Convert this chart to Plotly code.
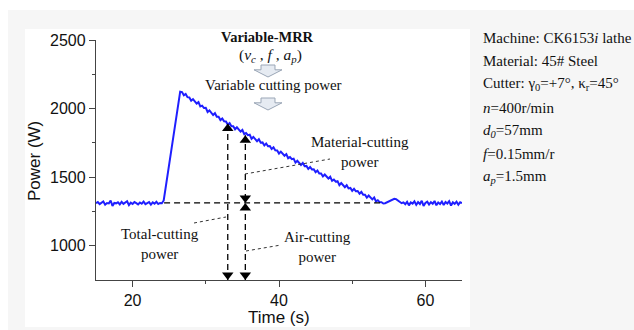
import plotly.graph_objects as go

# ---------------- data ----------------
t_start = 15.0
t_step = 0.25
power_w = [
    # 15.00 .. 24.00 idle / air-cutting baseline
    1310, 1318, 1303, 1313, 1322, 1299, 1311, 1308, 1330, 1290, 1312, 1309, 1317,
    1302, 1320, 1305, 1312, 1324, 1296, 1314, 1304, 1319, 1310, 1301, 1315, 1306,
    1321, 1303, 1311, 1318, 1300, 1316, 1307, 1320, 1304, 1312, 1310,
    # 24.25 .. 26.50 rise
    1330, 1418, 1506, 1594, 1682, 1770, 1858, 1947, 2035, 2123,
    # 26.75 .. 33.00
    2120, 2097, 2107, 2083, 2081, 2057, 2069, 2054, 2036, 2047, 2015, 2021, 2004,
    2006, 1975, 1987, 1972, 1953, 1966, 1940, 1940, 1916, 1928, 1907, 1906, 1883,
    # 33.25 .. 37.50
    1895, 1872, 1872, 1849, 1863, 1848, 1832, 1844, 1814, 1821, 1806, 1809, 1780,
    1793, 1780, 1762, 1776, 1751,
    # 37.75 .. 43.00
    1753, 1731, 1745, 1725, 1726, 1705, 1717, 1695, 1694, 1672, 1686, 1672, 1656,
    1668, 1638, 1646, 1631, 1635, 1606, 1619, 1606, 1589,
    # 43.25 .. 49.50
    1603, 1580, 1582, 1560, 1574, 1556, 1557, 1536, 1548, 1527, 1527, 1505, 1519,
    1506, 1490, 1503, 1473, 1482, 1467, 1471, 1442, 1457, 1444, 1427, 1441, 1418,
    # 49.75 .. 54.00
    1421, 1400, 1415, 1397, 1399, 1379, 1392, 1371, 1372, 1351, 1366, 1353, 1338,
    1352, 1323, 1332, 1318, 1317,
    # 54.25 .. 57.00 small bump
    1308, 1310, 1316, 1322, 1330, 1336, 1342, 1340, 1330, 1320, 1310, 1316,
    # 57.25 .. 65.00 baseline
    1303, 1320, 1294, 1316, 1307, 1324, 1298, 1318, 1304, 1328, 1290, 1312, 1321,
    1300, 1317, 1306, 1326, 1295, 1315, 1304, 1322, 1297, 1319, 1308, 1325, 1293,
    1316, 1305, 1321, 1299, 1317, 1311,
]
time_s = [t_start + t_step * i for i in range(len(power_w))]

air_power = 1312          # air-cutting power level (W)
air_line_t = [24.3, 54.0]  # extent of dashed baseline
arrow1_t, arrow1_top = 33.0, 1891
arrow2_t, arrow2_top = 35.4, 1806

x_range = [15, 65]
y_range = [750, 2500]
x_ticks = [20, 40, 60]
y_ticks = [1000, 1500, 2000, 2500]

info_lines = [
    "Machine: CK6153<i>i</i> lathe",
    "Material: 45# Steel",
    "Cutter: γ<sub>0</sub>=+7°, κ<sub>r</sub>=45°",
    "<i>n</i>=400r/min",
    "<i>d<sub>0</sub></i>=57mm",
    "<i>f</i>=0.15mm/r",
    "<i>a<sub>p</sub></i>=1.5mm",
]

# ---------------- layout helpers (pixel -> paper) ----------------
W, H = 634, 330
ML, MR, MT, MB = 96, 172, 40, 50
PW, PH = W - ML - MR, H - MT - MB


def px(x):
    return (x - ML) / PW


def py(y):
    return (H - MB - y) / PH


SERIF = "Liberation Serif, Times New Roman, serif"
SANS = "Liberation Sans, Arial, sans-serif"

fig = go.Figure()
fig.add_trace(go.Scatter(x=time_s, y=power_w, mode="lines",
                         line=dict(color="#1f1fff", width=2),
                         hoverinfo="skip", showlegend=False))

shapes = []
# backgrounds
shapes.append(dict(type="rect", xref="paper", yref="paper", layer="below",
                   x0=px(8), x1=px(634), y0=py(330), y1=py(10),
                   fillcolor="#f6f6f6", line=dict(width=0)))
shapes.append(dict(type="rect", xref="paper", yref="paper", layer="below",
                   x0=px(25), x1=px(470), y0=py(327), y1=py(29),
                   fillcolor="#ffffff", line=dict(width=0)))

dash_line = dict(color="black", width=1.3, dash="6px,4px")
# horizontal dashed air-cutting level
shapes.append(dict(type="line", xref="x", yref="y", x0=air_line_t[0], x1=air_line_t[1],
                   y0=air_power, y1=air_power, line=dash_line))
# vertical dashed lines
shapes.append(dict(type="line", xref="x", yref="y", x0=arrow1_t, x1=arrow1_t,
                   y0=y_range[0], y1=arrow1_top, line=dash_line))
shapes.append(dict(type="line", xref="x", yref="y", x0=arrow2_t, x1=arrow2_t,
                   y0=y_range[0], y1=arrow2_top, line=dash_line))

# dotted leader lines (pixel positions)
dot = dict(color="#333333", width=1, dash="dot")
for (x0, y0, x1, y1) in [(245, 174, 330, 159), (194, 223, 226, 217), (246, 251, 281, 245)]:
    shapes.append(dict(type="line", xref="paper", yref="paper",
                       x0=px(x0), y0=py(y0), x1=px(x1), y1=py(y1), line=dot))


# hollow down arrows
def hollow_arrow(cx, top, bottom):
    stem_h = (bottom - top) * 0.4
    pts = [(cx - 7, top), (cx + 7, top), (cx + 7, top + stem_h), (cx + 14, top + stem_h),
           (cx, bottom), (cx - 14, top + stem_h), (cx - 7, top + stem_h)]
    path = "M " + " L ".join(f"{px(a):.5f},{py(b):.5f}" for a, b in pts) + " Z"
    return dict(type="path", xref="paper", yref="paper", path=path,
                fillcolor="#e6ebf2", line=dict(color="#9aa6b6", width=1))


shapes.append(hollow_arrow(268, 65, 77))
shapes.append(hollow_arrow(268, 98, 110))

annotations = []


def text(x, y, s, size=14.5, font=SERIF, anchor="center", color="#111111"):
    annotations.append(dict(x=px(x), y=py(y), xref="paper", yref="paper", text=s,
                            showarrow=False, xanchor=anchor, yanchor="middle",
                            align="center", font=dict(family=font, size=size, color=color)))


text(267, 37, "<b>Variable-MRR</b>", size=14.5)
text(270, 55, "(<i>v</i><sub><i>c</i></sub> , <i>f</i> , <i>a</i><sub><i>p</i></sub>)", size=15.5)
text(273, 85, "Variable cutting power", size=15)
text(360, 152, "Material-cutting<br>power", size=15)
text(160, 244, "Total-cutting<br>power", size=15)
text(317, 247, "Air-cutting<br>power", size=15)

for i, line in enumerate(info_lines):
    text(481, 38 + i * 23.2, line, size=15, anchor="left")

# axis titles
annotations.append(dict(x=px(34), y=py(161), xref="paper", yref="paper", text="Power (W)",
                        textangle=-90, showarrow=False, xanchor="center", yanchor="middle",
                        font=dict(family=SANS, size=17, color="#111111")))
annotations.append(dict(x=px(279), y=py(317), xref="paper", yref="paper", text="Time (s)",
                        showarrow=False, yanchor="middle",
                        font=dict(family=SANS, size=17, color="#111111")))

# solid arrowheads on the dashed lines (triangle markers whose tips touch the targets)
HEAD = 10                                  # marker size (px)
w_per_px = (y_range[1] - y_range[0]) / PH  # W per pixel
off = HEAD / 2 * w_per_px                   # tip-to-centre offset in data units
heads = [  # (time, tip value, pointing down?)
    (arrow1_t, y_range[0], True), (arrow1_t, arrow1_top, False),
    (arrow2_t, y_range[0], True), (arrow2_t, air_power, False),
    (arrow2_t, air_power, True), (arrow2_t, arrow2_top, False),
]
fig.add_trace(go.Scatter(
    x=[h[0] for h in heads],
    y=[h[1] + off if h[2] else h[1] - off for h in heads],
    mode="markers", hoverinfo="skip", showlegend=False, cliponaxis=False,
    marker=dict(symbol=["triangle-down" if h[2] else "triangle-up" for h in heads],
                size=HEAD, color="black", line=dict(width=0))))

axis_common = dict(showline=True, linecolor="#444444", linewidth=1.4, ticks="outside",
                   ticklen=6, tickwidth=1.3, tickcolor="#444444", showgrid=False,
                   zeroline=False, mirror=False,
                   tickfont=dict(family=SANS, size=16, color="#111111"))

fig.update_layout(
    width=W, height=H,
    margin=dict(l=ML, r=MR, t=MT, b=MB),
    paper_bgcolor="white", plot_bgcolor="rgba(0,0,0,0)",
    showlegend=False,
    shapes=shapes, annotations=annotations,
    xaxis=dict(range=x_range, tickvals=x_ticks, **axis_common,
               minor=dict(tickvals=[30, 50], ticklen=3, tickcolor="#444444", ticks="outside")),
    yaxis=dict(range=y_range, tickvals=y_ticks, **axis_common,
               minor=dict(tickvals=[1250, 1750, 2250], ticklen=3, tickcolor="#444444",
                          ticks="outside")),
)

fig.write_html("out.html")
